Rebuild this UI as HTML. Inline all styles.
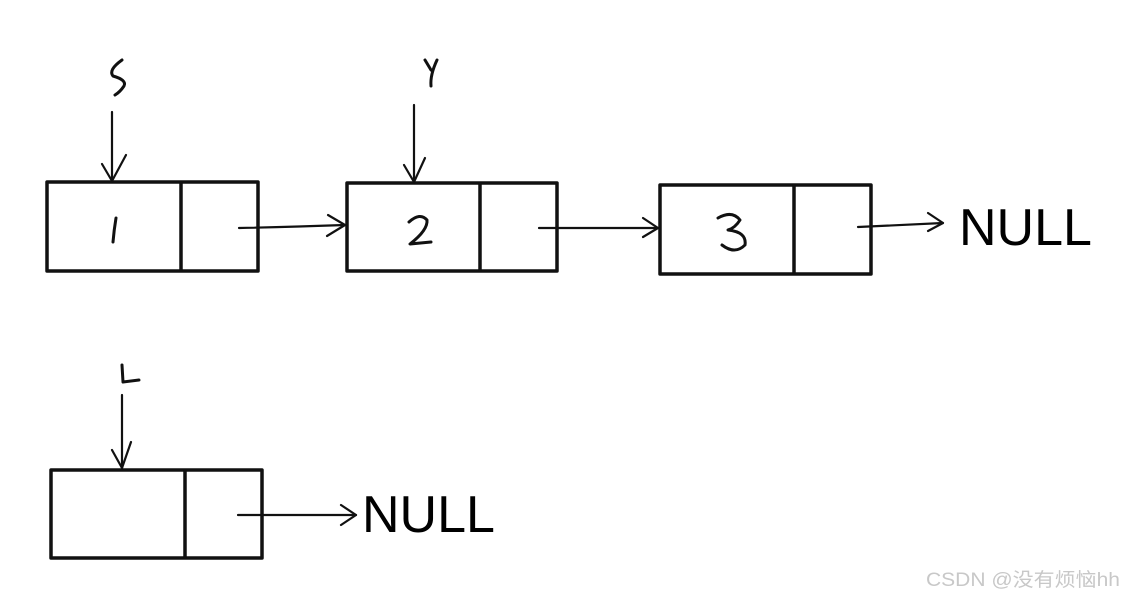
<!DOCTYPE html>
<html><head><style>
html,body{margin:0;padding:0;background:#fff;}
</style></head><body>
<svg width="1124" height="599" viewBox="0 0 1124 599" xmlns="http://www.w3.org/2000/svg">
<g fill="none" stroke="#111" stroke-width="3.5" stroke-linejoin="round">
<rect x="47" y="182" width="211" height="89"/>
<line x1="181" y1="182" x2="181" y2="271"/>
<rect x="347" y="183" width="210" height="88"/>
<line x1="480" y1="183" x2="480" y2="271"/>
<rect x="660" y="185" width="211" height="89"/>
<line x1="794" y1="185" x2="794" y2="274"/>
<rect x="51" y="470" width="211" height="88"/>
<line x1="185" y1="470" x2="185" y2="558"/>
</g>
<g fill="none" stroke="#111" stroke-width="2.2" stroke-linecap="round" stroke-linejoin="round">
<line x1="112" y1="112" x2="112" y2="181"/><polyline points="102,164 112,181 126,155"/>
<line x1="414" y1="105" x2="414" y2="182"/><polyline points="404,165 414,182 425,158"/>
<line x1="122" y1="395" x2="122" y2="468"/><polyline points="112,450 122,468 131,442"/>
<path d="M239,228 Q290,227 345,225"/><polyline points="328,215 345,225 327,236"/>
<path d="M539,228 Q600,228 658,228"/><polyline points="643,218 658,228 643,237"/>
<path d="M858,227 Q900,225 943,223"/><polyline points="928,213 943,223 928,231"/>
<path d="M238,515 L356,515"/><polyline points="341,505 356,515 341,525"/>
</g>
<g fill="none" stroke="#111" stroke-width="3" stroke-linecap="round" stroke-linejoin="round">
<path d="M122,60 Q108,70 113,76 Q127,80 124,86 Q120,92 115,95"/>
<path d="M425,60 L431,70 M437,60 Q430,75 431,86"/>
<path d="M122,365 L123,382 L139,380"/>
<path d="M116,218 Q114,230 113,242"/>
<path d="M409,222 Q420,212 427,220 Q428,230 410,244 L431,242"/>
<path d="M718,218 Q732,210 740,220 Q735,228 728,230 Q747,232 745,245 Q735,255 722,245"/>
</g>
<g font-family="Liberation Sans, sans-serif" fill="#000">
<text x="959" y="245" font-size="52">NULL</text>
<text x="362" y="532" font-size="52">NULL</text>
<text x="926" y="586" font-size="19" textLength="194" lengthAdjust="spacingAndGlyphs" fill="#c8c8c8" font-family="Liberation Sans, 'Noto Sans CJK SC', sans-serif">CSDN @没有烦恼hh</text>
</g>
</svg>
</body></html>
